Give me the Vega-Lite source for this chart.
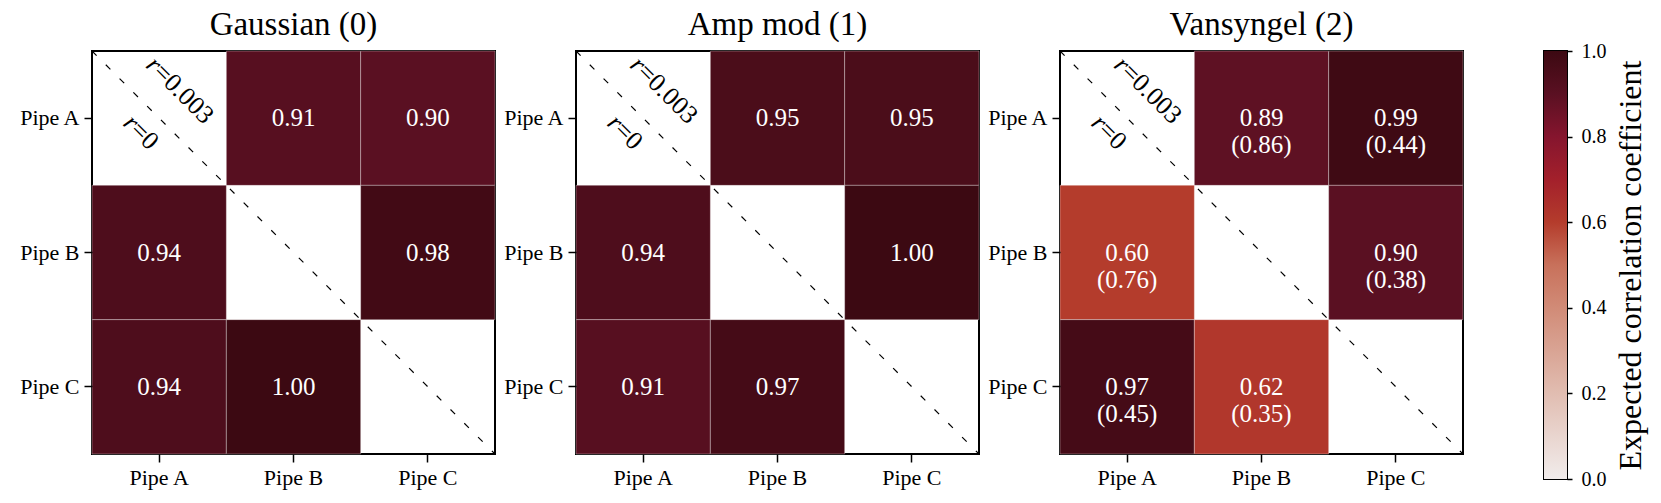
{
  "$schema": "https://vega.github.io/schema/vega-lite/v6.json",
  "background": "white",
  "padding": {"left": 17, "top": 8, "right": 5, "bottom": 5},
  "datasets": {
    "cells": [
      {"panel": "Gaussian (0)", "row": "Pipe A", "col": "Pipe B", "value": 0.91, "label": "0.91"},
      {"panel": "Gaussian (0)", "row": "Pipe A", "col": "Pipe C", "value": 0.90, "label": "0.90"},
      {"panel": "Gaussian (0)", "row": "Pipe B", "col": "Pipe A", "value": 0.94, "label": "0.94"},
      {"panel": "Gaussian (0)", "row": "Pipe B", "col": "Pipe C", "value": 0.98, "label": "0.98"},
      {"panel": "Gaussian (0)", "row": "Pipe C", "col": "Pipe A", "value": 0.94, "label": "0.94"},
      {"panel": "Gaussian (0)", "row": "Pipe C", "col": "Pipe B", "value": 1.00, "label": "1.00"},
      {"panel": "Amp mod (1)", "row": "Pipe A", "col": "Pipe B", "value": 0.95, "label": "0.95"},
      {"panel": "Amp mod (1)", "row": "Pipe A", "col": "Pipe C", "value": 0.95, "label": "0.95"},
      {"panel": "Amp mod (1)", "row": "Pipe B", "col": "Pipe A", "value": 0.94, "label": "0.94"},
      {"panel": "Amp mod (1)", "row": "Pipe B", "col": "Pipe C", "value": 1.00, "label": "1.00"},
      {"panel": "Amp mod (1)", "row": "Pipe C", "col": "Pipe A", "value": 0.91, "label": "0.91"},
      {"panel": "Amp mod (1)", "row": "Pipe C", "col": "Pipe B", "value": 0.97, "label": "0.97"},
      {"panel": "Vansyngel (2)", "row": "Pipe A", "col": "Pipe B", "value": 0.89, "label": "0.89\n(0.86)"},
      {"panel": "Vansyngel (2)", "row": "Pipe A", "col": "Pipe C", "value": 0.99, "label": "0.99\n(0.44)"},
      {"panel": "Vansyngel (2)", "row": "Pipe B", "col": "Pipe A", "value": 0.60, "label": "0.60\n(0.76)"},
      {"panel": "Vansyngel (2)", "row": "Pipe B", "col": "Pipe C", "value": 0.90, "label": "0.90\n(0.38)"},
      {"panel": "Vansyngel (2)", "row": "Pipe C", "col": "Pipe A", "value": 0.97, "label": "0.97\n(0.45)"},
      {"panel": "Vansyngel (2)", "row": "Pipe C", "col": "Pipe B", "value": 0.62, "label": "0.62\n(0.35)"}
    ],
    "diag": [{"x": 0, "y": 0, "x2": 1, "y2": 1}],
    "rlab": [
      {"sym": "r", "rest": "=0.003", "x": 0.163, "y": 0.042},
      {"sym": "r", "rest": "=0", "x": 0.106, "y": 0.186}
    ],
    "cbar": [{"lo": 0, "hi": 1}]
  },
  "bounds": "flush",
  "spacing": 81,
  "hconcat": [
    {
      "width": 403, "height": 403,
      "title": "Gaussian (0)",
      "layer": [
        {
          "data": {"name": "cells"},
          "transform": [{"filter": "datum.panel === 'Gaussian (0)'"}],
          "layer": [
            {"mark": {"type": "rect", "stroke": "#ffffff", "strokeWidth": 0.7, "strokeOpacity": 0.45},
             "encoding": {
               "x": {"field": "col", "type": "nominal", "scale": {"domain": ["Pipe A", "Pipe B", "Pipe C"], "paddingInner": 0, "paddingOuter": 0}, "axis": {"labelAngle": 0, "title": null}},
               "y": {"field": "row", "type": "nominal", "scale": {"domain": ["Pipe A", "Pipe B", "Pipe C"], "paddingInner": 0, "paddingOuter": 0}, "axis": {"title": null}},
               "color": {"field": "value", "type": "quantitative", "scale": {"domain": [0, 0.1, 0.2, 0.3, 0.4, 0.5, 0.6, 0.7, 0.8, 0.9, 1.0], "range": ["#F1ECEB", "#E9D5CF", "#E1BDB1", "#D9A494", "#D18B77", "#C8715B", "#B43C2C", "#A3202B", "#85152E", "#5A1022", "#3C0912"]}, "legend": null}
             }},
            {"mark": {"type": "text", "color": "white", "fontSize": 25, "lineBreak": "\n", "lineHeight": 27},
             "encoding": {
               "x": {"field": "col", "type": "nominal"},
               "y": {"field": "row", "type": "nominal"},
               "text": {"field": "label"}
             }}
          ]
        },
        {
          "layer": [
            {"data": {"name": "diag"},
             "mark": {"type": "rule", "strokeDash": [6.5, 13], "strokeWidth": 1.2, "color": "black"},
             "encoding": {
               "x": {"field": "x", "type": "quantitative", "scale": {"domain": [0, 1], "nice": false, "zero": false}, "axis": null},
               "y": {"field": "y", "type": "quantitative", "scale": {"domain": [0, 1], "nice": false, "reverse": true}, "axis": null},
               "x2": {"field": "x2"}, "y2": {"field": "y2"}
             }},
            {"data": {"name": "rlab"},
             "mark": {"type": "text", "angle": 45, "align": "right", "baseline": "middle", "fontStyle": "italic", "fontSize": 26},
             "encoding": {
               "x": {"field": "x", "type": "quantitative"},
               "y": {"field": "y", "type": "quantitative"},
               "text": {"field": "sym"}
             }},
            {"data": {"name": "rlab"},
             "mark": {"type": "text", "angle": 45, "align": "left", "baseline": "middle", "fontSize": 26},
             "encoding": {
               "x": {"field": "x", "type": "quantitative"},
               "y": {"field": "y", "type": "quantitative"},
               "text": {"field": "rest"}
             }}
          ]
        }
      ],
      "resolve": {"scale": {"x": "independent", "y": "independent"}}
    },
    {
      "width": 403, "height": 403,
      "title": "Amp mod (1)",
      "layer": [
        {
          "data": {"name": "cells"},
          "transform": [{"filter": "datum.panel === 'Amp mod (1)'"}],
          "layer": [
            {"mark": {"type": "rect", "stroke": "#ffffff", "strokeWidth": 0.7, "strokeOpacity": 0.45},
             "encoding": {
               "x": {"field": "col", "type": "nominal", "scale": {"domain": ["Pipe A", "Pipe B", "Pipe C"], "paddingInner": 0, "paddingOuter": 0}, "axis": {"labelAngle": 0, "title": null}},
               "y": {"field": "row", "type": "nominal", "scale": {"domain": ["Pipe A", "Pipe B", "Pipe C"], "paddingInner": 0, "paddingOuter": 0}, "axis": {"title": null}},
               "color": {"field": "value", "type": "quantitative", "scale": {"domain": [0, 0.1, 0.2, 0.3, 0.4, 0.5, 0.6, 0.7, 0.8, 0.9, 1.0], "range": ["#F1ECEB", "#E9D5CF", "#E1BDB1", "#D9A494", "#D18B77", "#C8715B", "#B43C2C", "#A3202B", "#85152E", "#5A1022", "#3C0912"]}, "legend": null}
             }},
            {"mark": {"type": "text", "color": "white", "fontSize": 25, "lineBreak": "\n", "lineHeight": 27},
             "encoding": {
               "x": {"field": "col", "type": "nominal"},
               "y": {"field": "row", "type": "nominal"},
               "text": {"field": "label"}
             }}
          ]
        },
        {
          "layer": [
            {"data": {"name": "diag"},
             "mark": {"type": "rule", "strokeDash": [6.5, 13], "strokeWidth": 1.2, "color": "black"},
             "encoding": {
               "x": {"field": "x", "type": "quantitative", "scale": {"domain": [0, 1], "nice": false, "zero": false}, "axis": null},
               "y": {"field": "y", "type": "quantitative", "scale": {"domain": [0, 1], "nice": false, "reverse": true}, "axis": null},
               "x2": {"field": "x2"}, "y2": {"field": "y2"}
             }},
            {"data": {"name": "rlab"},
             "mark": {"type": "text", "angle": 45, "align": "right", "baseline": "middle", "fontStyle": "italic", "fontSize": 26},
             "encoding": {
               "x": {"field": "x", "type": "quantitative"},
               "y": {"field": "y", "type": "quantitative"},
               "text": {"field": "sym"}
             }},
            {"data": {"name": "rlab"},
             "mark": {"type": "text", "angle": 45, "align": "left", "baseline": "middle", "fontSize": 26},
             "encoding": {
               "x": {"field": "x", "type": "quantitative"},
               "y": {"field": "y", "type": "quantitative"},
               "text": {"field": "rest"}
             }}
          ]
        }
      ],
      "resolve": {"scale": {"x": "independent", "y": "independent"}}
    },
    {
      "width": 403, "height": 403,
      "title": "Vansyngel (2)",
      "layer": [
        {
          "data": {"name": "cells"},
          "transform": [{"filter": "datum.panel === 'Vansyngel (2)'"}],
          "layer": [
            {"mark": {"type": "rect", "stroke": "#ffffff", "strokeWidth": 0.7, "strokeOpacity": 0.45},
             "encoding": {
               "x": {"field": "col", "type": "nominal", "scale": {"domain": ["Pipe A", "Pipe B", "Pipe C"], "paddingInner": 0, "paddingOuter": 0}, "axis": {"labelAngle": 0, "title": null}},
               "y": {"field": "row", "type": "nominal", "scale": {"domain": ["Pipe A", "Pipe B", "Pipe C"], "paddingInner": 0, "paddingOuter": 0}, "axis": {"title": null}},
               "color": {"field": "value", "type": "quantitative", "scale": {"domain": [0, 0.1, 0.2, 0.3, 0.4, 0.5, 0.6, 0.7, 0.8, 0.9, 1.0], "range": ["#F1ECEB", "#E9D5CF", "#E1BDB1", "#D9A494", "#D18B77", "#C8715B", "#B43C2C", "#A3202B", "#85152E", "#5A1022", "#3C0912"]}, "legend": null}
             }},
            {"mark": {"type": "text", "color": "white", "fontSize": 25, "lineBreak": "\n", "lineHeight": 27},
             "encoding": {
               "x": {"field": "col", "type": "nominal"},
               "y": {"field": "row", "type": "nominal"},
               "text": {"field": "label"}
             }}
          ]
        },
        {
          "layer": [
            {"data": {"name": "diag"},
             "mark": {"type": "rule", "strokeDash": [6.5, 13], "strokeWidth": 1.2, "color": "black"},
             "encoding": {
               "x": {"field": "x", "type": "quantitative", "scale": {"domain": [0, 1], "nice": false, "zero": false}, "axis": null},
               "y": {"field": "y", "type": "quantitative", "scale": {"domain": [0, 1], "nice": false, "reverse": true}, "axis": null},
               "x2": {"field": "x2"}, "y2": {"field": "y2"}
             }},
            {"data": {"name": "rlab"},
             "mark": {"type": "text", "angle": 45, "align": "right", "baseline": "middle", "fontStyle": "italic", "fontSize": 26},
             "encoding": {
               "x": {"field": "x", "type": "quantitative"},
               "y": {"field": "y", "type": "quantitative"},
               "text": {"field": "sym"}
             }},
            {"data": {"name": "rlab"},
             "mark": {"type": "text", "angle": 45, "align": "left", "baseline": "middle", "fontSize": 26},
             "encoding": {
               "x": {"field": "x", "type": "quantitative"},
               "y": {"field": "y", "type": "quantitative"},
               "text": {"field": "rest"}
             }}
          ]
        }
      ],
      "resolve": {"scale": {"x": "independent", "y": "independent"}}
    },
    {
      "width": 23, "height": 428,
      "data": {"name": "cbar"},
      "mark": {
        "type": "rect",
        "fill": {"gradient": "linear", "x1": 0, "y1": 1, "x2": 0, "y2": 0, "stops": [
          {"offset": 0, "color": "#F1ECEB"}, {"offset": 0.1, "color": "#E9D5CF"}, {"offset": 0.2, "color": "#E1BDB1"},
          {"offset": 0.3, "color": "#D9A494"}, {"offset": 0.4, "color": "#D18B77"}, {"offset": 0.5, "color": "#C8715B"},
          {"offset": 0.6, "color": "#B43C2C"}, {"offset": 0.7, "color": "#A3202B"}, {"offset": 0.8, "color": "#85152E"},
          {"offset": 0.9, "color": "#5A1022"}, {"offset": 1, "color": "#3C0912"}
        ]},
        "fillOpacity": 1
      },
      "encoding": {
        "x": {"field": "lo", "type": "quantitative", "scale": {"domain": [0, 1], "nice": false}, "axis": null},
        "x2": {"field": "hi"},
        "y": {"field": "lo", "type": "quantitative", "scale": {"domain": [0, 1], "nice": false},
              "axis": {"orient": "right", "values": [0, 0.2, 0.4, 0.6, 0.8, 1], "format": ".1f", "labelFontSize": 20, "tickSize": 5, "labelPadding": 9,
                       "title": "Expected correlation coefficient", "titleFontSize": 32, "titleFontWeight": "normal", "titleAngle": 270, "titleBaseline": "top", "titlePadding": 9, "titleColor": "black"}},
        "y2": {"field": "hi"}
      }
    }
  ],
  "config": {
    "font": "Liberation Serif",
    "view": {"stroke": "black", "strokeWidth": 2},
    "axis": {"labelFont": "Liberation Serif", "labelFontSize": 22, "labelColor": "black", "tickColor": "black", "tickSize": 8, "tickWidth": 1.5, "domain": false, "grid": false, "labelPadding": 5, "titleFont": "Liberation Serif"},
    "title": {"font": "Liberation Serif", "fontSize": 33, "fontWeight": "normal", "color": "black", "offset": 8, "anchor": "middle"}
  }
}
